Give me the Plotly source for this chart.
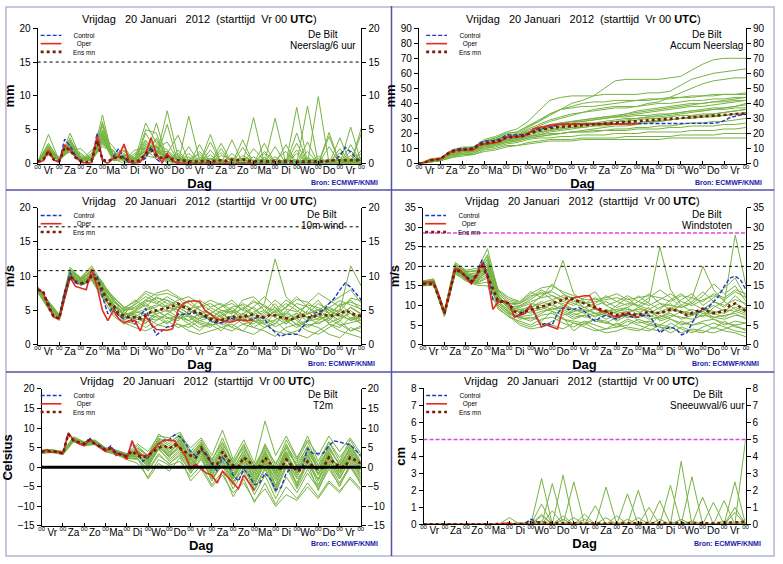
import plotly.graph_objects as go

W, H = 783, 564
FONT = "Liberation Sans, Arial, sans-serif"

DAY_LABELS = ["Vr", "Za", "Zo", "Ma", "Di", "Wo", "Do", "Vr", "Za", "Zo", "Ma", "Di", "Wo", "Do", "Vr"]
HOURS_6 = list(range(0, 361, 6))
HOURS_12 = list(range(0, 361, 12))
OPER_HOURS = list(range(0, 241, 6))
LEGEND_NAMES = ["Control", "Oper", "Ens mn"]

# ---------------- Neerslag / 6 uur (mm) ----------------
PRECIP_CONTROL = [0.2,0.4,1.9,0.5,0.3,3.6,2.6,1.2,0.3,0.0, 0.1,4.5,0.5,0.0,1.0,2.2,0.8,0.1,0.0,0.3,
                  0.8,2.5,0.7,0.0,1.4,0.3,0.0,0.0,0.1,0.0, 0.0,0.0,0.1,0.0,0.0,0.0,0.1,0.0,0.0,0.0,
                  0.0,0.0,0.0,0.0,0.0,0.0,0.1,0.0,0.0,0.0, 0.0,0.0,0.1,0.2,0.3,0.5,1.2,2.4,1.7,0.8, 0.3]
PRECIP_OPER = [0.2,0.4,2.0,0.5,0.2,2.7,2.0,1.0,0.2,0.0, 0.1,4.0,0.5,0.0,0.8,1.0,2.9,0.2,0.0,0.2,
               1.5,3.8,1.4,0.2,1.5,0.4,0.1,0.0,0.0,0.0, 0.0,0.0,0.0,0.0,0.0,0.0,0.0,0.0,0.0,0.0, 0.0]
PRECIP_MEAN = [0.3,0.5,1.8,0.6,0.4,2.4,2.0,0.9,0.4,0.2, 0.4,3.4,0.6,0.3,0.8,1.0,0.8,0.4,0.3,0.5,
               1.5,2.0,1.2,0.8,1.0,0.6,0.5,0.4,0.4,0.3, 0.3,0.4,0.3,0.4,0.5,0.4,0.6,0.5,0.6,0.4,
               0.3,0.4,0.3,0.3,0.4,0.3,0.4,0.3,0.3,0.3, 0.3,0.3,0.3,0.4,0.4,0.5,0.5,0.4,0.5,0.5, 0.5]
PRECIP_MEMBERS = [
    [0.3,2.0,0.5,2.6,0.6,0.4,3.8,0.8,1.0,0.3,1.6,2.0,1.0,0.6,0.0,0.3,0.0,0.5,0.0,0.2,0.0,0.0,0.4,0.0,0.0,0.3,0.0,0.0,0.2,0.0,0.3],
    [0.2,4.3,0.4,4.5,0.8,0.3,7.2,0.5,2.5,0.2,0.8,6.0,0.5,1.5,0.0,0.0,2.0,0.0,0.0,0.0,0.5,0.0,0.0,2.8,0.0,0.5,0.0,0.0,0.0,0.2,0.0],
    [0.4,1.5,0.8,2.0,2.2,0.6,2.5,1.8,0.4,1.2,3.5,1.0,7.8,1.0,0.0,0.0,3.2,0.0,0.0,0.0,0.0,1.5,0.0,0.0,0.0,8.5,0.0,0.0,0.5,0.0,1.0],
    [0.3,2.5,0.3,3.0,0.5,1.5,5.5,0.6,1.2,0.0,5.0,4.5,0.4,0.0,7.0,0.5,0.0,0.0,1.5,0.0,6.8,0.0,0.0,0.0,4.5,0.0,9.9,0.0,0.0,0.5,0.0],
    [0.2,1.8,1.0,1.7,0.3,0.5,4.2,2.5,0.5,2.0,2.2,0.6,1.5,4.2,0.3,0.0,0.0,3.0,0.0,0.0,0.0,0.0,6.7,0.0,0.0,0.0,0.0,4.0,0.0,5.4,0.0],
    [0.3,3.0,0.5,2.2,1.0,0.4,6.2,0.8,0.0,0.5,6.0,3.0,2.0,0.5,0.0,1.8,0.0,0.0,0.0,3.5,0.0,0.0,0.0,0.0,0.0,0.0,0.0,0.0,3.8,0.0,5.3],
    [0.4,1.2,0.6,3.8,0.4,2.0,3.0,1.2,2.0,0.0,1.0,2.5,0.0,0.0,0.0,0.0,0.0,0.0,3.5,0.0,0.0,0.0,0.0,0.0,2.0,0.0,0.0,4.6,0.0,0.0,2.0],
    [0.2,2.2,0.3,2.8,1.5,0.3,3.5,0.4,0.6,0.8,1.2,0.8,5.8,0.0,0.0,0.0,0.0,2.2,0.0,0.0,0.0,3.0,0.0,0.0,0.0,0.0,0.0,0.0,0.0,2.8,0.0],
    [0.3,1.6,0.4,2.4,0.6,0.6,2.8,2.0,0.2,0.0,4.5,1.8,0.0,2.0,0.0,0.0,0.0,0.0,0.0,0.0,0.0,0.0,0.0,0.0,8.3,0.0,0.0,0.0,0.0,0.0,0.0],
    [0.3,2.8,0.7,1.9,0.3,0.8,4.8,0.6,1.5,0.3,3.0,1.2,0.8,0.0,2.5,0.0,0.0,0.0,0.0,0.0,0.0,0.0,2.5,0.0,0.0,0.0,0.0,0.0,0.0,0.0,4.5],
    [0.2,1.4,0.5,3.2,0.9,0.3,3.2,1.0,0.8,0.6,2.0,2.8,0.4,0.0,0.0,1.0,0.0,0.0,0.0,0.0,0.0,0.0,0.0,0.0,0.0,3.2,0.0,0.0,0.0,0.0,0.0],
    [0.3,2.4,0.4,2.0,0.5,1.0,5.0,1.5,0.3,0.2,1.5,3.5,0.6,0.0,0.0,0.0,4.3,0.0,0.0,0.0,0.0,0.0,0.0,0.0,0.0,0.0,0.0,0.0,2.2,0.0,0.0],
    [0.3,1.9,0.6,2.7,0.7,0.5,4.0,1.0,0.7,0.4,2.5,1.5,1.2,0.8,0.5,0.2,0.8,0.3,0.0,1.2,0.3,0.0,0.5,1.8,0.0,0.4,0.0,0.6,0.0,0.8,0.2],
    [0.2,2.1,0.4,3.5,1.2,0.7,5.8,0.9,1.8,0.6,1.8,2.2,3.2,0.4,1.0,0.0,0.0,1.2,0.6,0.0,2.2,0.5,0.0,0.0,1.5,0.0,0.7,0.0,1.6,0.0,0.5],
    [0.4,1.7,0.5,2.3,0.4,0.9,3.6,1.4,0.5,1.5,2.8,2.4,0.3,1.2,0.0,2.8,0.0,0.0,0.9,0.0,0.0,1.8,0.3,0.0,0.0,0.9,0.0,2.5,0.0,0.3,1.5],
    [0.3,2.6,0.5,2.9,0.8,0.6,4.4,1.1,0.9,0.2,1.4,3.8,0.9,0.2,1.5,0.0,1.3,0.0,0.0,2.4,0.0,0.0,1.0,0.0,3.0,0.0,0.0,0.4,0.0,1.2,0.0],
    [0.2,1.8,0.4,2.1,0.6,0.4,3.3,0.7,1.3,0.5,2.6,1.7,1.8,0.3,0.6,1.4,0.0,0.6,0.0,0.0,1.0,0.0,0.0,0.6,0.0,1.8,0.0,0.0,0.9,0.0,0.7],
    [0.3,2.3,0.6,3.3,0.5,1.2,4.6,0.5,0.8,0.9,3.3,2.0,0.6,0.9,0.3,0.0,0.5,1.6,0.3,0.6,0.0,0.9,0.0,0.3,0.6,0.0,1.1,0.0,0.0,1.9,0.4],
    [0.3,1.5,0.4,2.5,0.9,0.6,3.9,1.3,0.4,0.7,1.9,2.6,1.1,0.5,0.2,0.7,0.3,0.0,0.4,0.8,0.5,0.3,0.6,0.2,0.4,0.5,0.3,0.6,0.4,0.3,0.5],
    [0.2,2.0,0.5,2.8,0.7,0.5,4.1,0.9,1.1,0.4,2.2,1.9,0.9,0.6,0.4,0.5,0.6,0.4,0.2,0.5,0.4,0.6,0.3,0.5,0.2,0.7,0.4,0.3,0.6,0.4,0.6],
]
PRECIP_LINES = [15]

# ---------------- Accum Neerslag (mm) ----------------
ACCUM_CONTROL = [0,0.5,2,2.5,3,6.5,8.5,9.8,10,10, 10.2,13.5,15,15,15.5,16.5,19,19,19,19.2,
                 20,22,23.5,23.5,24.5,25.5,26,26.2,26.3,26.4, 26.5,26.5,26.5,26.5,26.5,26.5,26.5,26.5,26.5,26.5,
                 26.5,26.5,26.5,26.5,26.5,26.5,26.5,26.5,26.5,26.5, 26.5,26.5,26.5,26.6,26.8,27.2,28.5,30.5,31.5,32.3, 32.8]
ACCUM_OPER = [0,0.5,2.5,3,3.2,6,8,9,9.2,9.2, 9.3,12.5,13,13,13.8,14.8,17.5,17.7,17.7,17.9,
              19.5,23,24.2,24.4,25.5,26,26.2,26.2,26.2,26.2, 26.2,26.2,26.2,26.2,26.2,26.3,26.3,26.3,26.3,26.3, 26.3]
ACCUM_MEAN = [0,0.5,2.2,2.6,3,6,7.8,8.8,9.2,9.4, 9.8,12.5,13.5,13.8,14.5,15.5,17.2,17.5,17.8,18.3,
              19.5,21,22,22.8,23.5,24,24.4,24.7,25,25.2, 25.4,25.6,25.8,26.1,26.4,26.7,27,27.3,27.6,27.9,
              28.1,28.4,28.7,29,29.2,29.5,29.8,30,30.3,30.6, 30.9,31.1,31.4,31.6,31.9,32.1,32.4,32.6,32.9,33.1, 33.4]
ACCUM_MEMBERS = [
    [0,2,3,8,10,11,15,17,20,21,25,28,32,36,40,42,45,50,55,56,56,56,56,57,58,62,66,69,70,70,70],
    [0,2,4,9,11,11,16,18,21,23,28,35,42,44,45,45,45,46,46,46,46,47,47,48,52,56,58,60,61,62,63],
    [0,2,3,7,9,10,13,15,18,19,22,25,28,30,32,34,36,37,38,38,38,40,41,44,47,50,53,55,56,57,57],
    [0,3,4,8,10,11,14,16,19,20,24,28,33,36,37,38,38,39,40,41,42,42,43,43,44,44,45,45,46,46,47],
    [0,2,3,6,8,9,12,14,16,17,20,22,24,26,28,29,30,31,32,33,34,35,36,37,38,39,40,41,42,43,44],
    [0,2,3,7,9,9,13,15,17,18,21,22,24,25,26,27,27,28,29,30,30,31,31,32,33,34,35,36,37,38,40],
    [0,2,3,6,8,8,11,13,15,16,18,19,21,22,23,24,25,25,26,26,27,28,28,29,30,30,31,31,32,33,34],
    [0,1,2,5,7,7,10,12,14,15,17,18,19,20,21,21,22,22,23,23,24,24,25,25,26,27,27,28,28,29,30],
    [0,2,3,6,8,9,12,13,15,16,18,19,20,20,21,21,21,22,22,22,23,23,23,24,24,25,25,25,26,26,27],
    [0,1,2,5,6,7,10,11,13,14,16,17,17,18,18,19,19,19,20,20,20,21,21,21,21,22,22,22,23,23,24],
    [0,1,2,4,6,6,9,10,12,12,14,15,16,16,16,17,17,17,17,18,18,18,18,18,19,19,19,19,20,20,20],
    [0,1,2,4,5,6,8,9,11,12,13,14,15,15,15,16,16,16,16,16,16,16,16,17,17,17,17,17,17,17,17],
    [0,2,4,8,10,11,15,17,20,21,25,29,33,36,38,40,41,41,42,42,42,43,43,44,44,45,45,46,46,46,46],
    [0,2,3,7,9,10,14,16,18,19,23,26,29,31,33,34,35,36,37,37,38,39,40,40,41,42,42,43,43,44,44],
    [0,2,3,7,9,10,13,15,17,18,21,24,26,27,28,29,30,31,31,32,33,34,35,36,37,38,38,39,40,41,42],
    [0,2,3,6,8,9,12,14,16,17,20,23,25,27,28,28,29,30,31,31,32,32,33,33,34,35,36,37,37,38,39],
    [0,2,3,7,9,10,13,15,17,18,20,22,23,24,25,26,26,27,28,29,30,31,32,33,34,35,35,36,36,37,37],
    [0,1,3,6,8,8,12,14,16,17,19,21,22,23,24,25,26,27,28,28,29,30,30,31,32,32,33,33,34,35,36],
    [0,2,3,6,8,9,12,13,15,16,18,20,22,23,24,24,25,26,26,27,27,28,29,29,30,31,31,32,32,33,33],
    [0,2,3,7,9,10,14,16,18,19,21,23,25,26,27,28,29,30,31,33,35,36,37,38,39,40,40,41,41,42,42],
    [0,2,3,6,7,8,11,12,14,15,17,18,19,20,21,22,23,24,25,25,26,27,28,29,30,31,32,33,34,35,36],
]
ACCUM_LINES = []

# ---------------- 10m wind (m/s) ----------------
WIND_CONTROL = [8.0,7.8,6.0,4.0,4.0,7.5,10.5,9.0,8.8,9.0, 10.5,10.0,7.0,4.5,5.5,4.2,3.8,4.0,3.0,4.2,
                5.3,3.0,1.4,2.0,2.6,2.7,4.5,4.4,4.5,4.6, 4.7,4.0,3.5,3.2,3.2,3.5,3.8,3.6,3.5,3.6,
                3.8,4.0,3.8,2.5,1.8,1.2,1.5,1.5,1.5,2.5, 3.5,4.5,4.8,5.0,6.0,6.8,8.0,9.0,8.4,7.5, 6.5]
WIND_OPER = [8.0,7.6,5.5,4.0,3.8,7.0,9.8,8.5,8.2,8.0, 11.0,8.5,5.0,3.5,5.0,3.8,3.2,3.5,3.5,2.0,
             4.2,3.0,2.2,2.1,2.1,2.3,5.0,6.0,6.3,6.4, 6.3,5.0,4.5,3.8,3.5,3.3,3.3,3.6,3.6,3.5, 3.6]
WIND_MEAN = [8.0,7.8,5.5,4.0,3.8,7.5,10.0,9.2,9.0,9.0, 10.0,9.5,8.0,6.0,5.8,4.5,4.2,4.0,4.0,3.8,
             4.3,4.8,5.0,5.1,5.3,5.6,6.0,5.5,5.2,4.8, 4.6,4.3,3.8,3.5,3.6,3.9,4.1,4.0,4.0,4.3,
             4.4,4.1,4.0,4.3,4.3,4.0,3.8,3.7,4.0,4.3, 4.0,4.0,4.5,4.4,4.2,4.3,4.4,5.0,4.6,4.3, 4.2]
WIND_MEMBERS = [
    [8.2,6.0,4.0,10.5,9.5,10.5,8.5,6.5,5.0,5.5,6.5,7.5,8.0,7.0,6.0,5.0,4.5,5.5,6.5,5.0,4.5,6.0,12.5,7.0,5.5,4.5,6.0,5.0,4.0,5.5,4.5],
    [7.8,5.5,3.5,9.8,9.0,9.5,7.0,5.0,3.5,3.0,4.0,3.0,2.5,3.0,2.0,1.5,2.0,2.5,3.0,2.0,1.5,2.5,3.5,2.0,1.5,1.0,2.0,3.0,2.0,1.5,1.0],
    [8.0,5.8,3.8,10.2,8.8,10.0,8.0,5.5,4.5,6.0,7.5,6.5,5.5,6.5,7.0,6.0,5.0,4.0,3.5,4.5,5.5,4.0,3.0,4.5,6.0,5.5,4.0,3.5,5.0,11.5,8.5],
    [8.5,6.2,4.2,11.0,9.8,11.5,9.0,6.8,4.0,4.5,3.5,4.5,5.0,4.0,3.5,4.5,3.5,3.0,4.0,5.5,4.0,3.0,4.5,3.5,2.5,3.5,4.5,3.0,2.5,4.0,3.0],
    [7.6,5.2,3.6,9.5,9.2,9.8,7.5,4.5,3.2,2.5,2.0,2.8,3.5,2.5,3.0,2.0,3.5,2.5,2.0,3.0,2.5,2.0,1.2,2.5,3.0,2.0,1.5,2.5,3.5,2.0,2.5],
    [8.3,6.4,4.4,11.3,9.6,10.8,9.2,6.2,5.2,6.5,5.5,7.0,6.0,5.5,4.5,5.5,6.0,5.0,4.5,6.5,7.0,5.5,5.0,6.5,5.5,4.5,5.0,6.0,7.0,8.0,6.0],
    [7.9,5.7,3.9,10.0,9.0,10.2,7.8,5.8,4.8,4.0,5.0,5.5,6.5,5.0,4.0,3.0,2.5,4.0,5.0,3.5,3.0,4.5,6.0,4.0,3.0,5.0,6.5,4.5,3.5,5.0,3.5],
    [8.1,6.1,4.1,10.8,9.4,11.0,8.8,7.0,5.5,5.0,6.0,5.0,4.0,3.5,5.0,6.5,5.5,6.0,5.0,4.0,5.5,7.0,5.5,3.5,4.0,6.0,7.5,6.5,5.5,6.5,5.0],
    [7.7,5.4,3.7,9.9,8.6,9.4,6.8,4.2,3.0,3.5,2.5,3.5,4.5,5.5,4.5,3.5,4.0,3.5,2.5,2.0,3.5,3.0,2.0,1.5,2.0,3.0,2.5,1.5,1.0,2.5,1.8],
    [8.0,5.9,4.0,10.4,9.3,10.3,8.2,6.0,4.2,5.0,6.5,6.0,7.0,6.0,5.5,4.0,4.5,5.5,6.0,5.0,6.5,5.0,4.0,5.5,7.0,5.5,4.5,5.5,4.5,3.5,4.0],
    [8.4,6.3,4.3,10.9,9.7,11.2,8.6,5.2,3.8,4.8,4.5,4.0,3.0,4.5,3.5,2.5,3.0,4.5,3.5,4.0,2.5,3.5,5.0,3.0,4.5,4.0,3.0,4.0,6.0,4.5,3.0],
    [7.9,5.6,3.8,10.1,9.1,9.9,7.6,5.6,4.6,4.3,3.0,5.0,4.0,3.0,2.5,3.5,3.0,2.0,3.5,4.5,3.5,2.5,3.0,5.0,3.5,2.5,3.5,4.5,3.0,2.0,2.8],
    [8.0,5.8,3.9,10.3,9.2,10.1,8.1,5.9,4.4,4.6,5.2,5.8,5.5,5.0,4.2,3.8,4.6,3.6,4.2,3.4,4.8,5.6,4.2,4.6,3.8,4.4,5.2,3.8,4.6,5.4,4.4],
    [7.8,5.6,3.8,10.0,8.9,9.7,7.3,5.2,4.0,3.8,4.4,4.8,5.8,4.5,3.5,4.5,3.8,4.8,3.4,4.6,3.8,4.2,5.5,3.8,4.6,3.4,3.8,5.0,4.2,3.6,4.2],
    [8.2,6.0,4.1,10.6,9.5,10.6,8.4,6.4,4.9,5.3,6.2,6.8,6.5,5.8,5.0,4.2,5.4,4.6,5.5,5.8,4.4,5.0,6.5,5.2,4.8,5.8,5.4,4.6,5.8,6.2,5.6],
    [7.9,5.7,3.9,10.2,9.1,10.0,7.9,5.7,4.3,3.6,3.8,3.6,4.5,3.8,4.2,3.2,2.8,3.2,4.2,3.0,3.4,3.6,2.6,3.4,3.8,2.8,3.2,3.8,2.8,3.2,3.6],
    [8.1,6.1,4.0,10.7,9.4,10.7,8.7,6.6,5.1,5.8,7.0,6.2,4.8,5.5,6.5,5.2,3.8,5.0,4.8,6.0,5.2,4.0,4.8,6.0,5.0,3.8,4.4,5.4,6.4,5.8,5.2],
    [7.7,5.5,3.7,9.8,8.8,9.6,7.2,5.0,3.6,4.2,3.2,4.2,3.8,4.2,3.0,3.8,4.4,3.0,2.6,3.8,4.4,3.2,3.6,4.4,2.8,3.6,4.2,3.2,3.8,4.6,3.4],
    [8.3,6.2,4.2,10.9,9.6,10.9,8.9,6.9,5.4,6.2,7.8,7.2,7.5,6.8,5.2,5.6,6.5,5.8,4.6,5.2,6.2,5.8,4.6,5.4,6.6,6.2,5.0,5.2,4.8,6.8,6.4],
    [8.0,5.9,4.0,10.4,9.2,10.2,8.0,5.8,4.4,4.8,5.8,4.4,3.2,4.0,4.8,4.6,3.6,4.2,5.4,4.2,3.6,4.8,4.0,3.0,4.2,4.8,3.6,4.2,5.2,3.8,4.6],
]
WIND_LINES = [10.8, 13.9, 17.2]

# ---------------- Windstoten (m/s) ----------------
GUST_CONTROL = [15.5,15.8,15.8,12.0,8.0,14.0,19.5,18.5,17.5,16.0, 18.0,21.7,18.0,11.5,11.0,11.0,10.5,7.0,7.8,8.5,
                10.0,7.0,5.0,5.5,5.0,8.0,9.5,9.0,9.0,9.5, 8.5,7.0,6.0,7.0,7.5,7.0,6.5,7.5,7.5,7.0,
                7.0,7.5,7.5,5.5,3.0,4.0,4.5,4.0,2.5,3.0, 5.5,8.0,9.0,9.5,11.0,12.5,15.0,17.0,17.5,16.5, 14.0]
GUST_OPER = [16.0,16.0,16.0,12.5,8.0,13.5,19.5,19.0,17.0,15.5, 17.5,21.0,17.0,9.0,11.0,11.2,10.5,7.0,7.5,8.0,
             10.0,7.5,4.5,5.0,4.5,4.0,9.0,11.0,12.0,12.3, 12.5,12.5,9.5,8.5,8.5,7.5,7.0,7.5,8.0,7.5, 7.0]
GUST_MEAN = [15.5,15.5,15.5,12.0,8.0,13.5,19.3,18.5,17.5,16.0, 18.0,20.0,17.5,14.0,11.0,11.0,10.5,8.5,8.0,8.5,
             9.0,9.5,9.8,10.0,10.5,11.0,11.5,12.0,11.5,11.0, 10.5,10.0,9.5,9.0,8.5,8.0,7.5,7.8,8.0,7.8,
             7.5,8.0,8.5,8.2,8.0,8.5,9.0,8.7,8.3,7.5, 8.0,8.5,9.2,8.5,8.0,8.3,8.5,10.0,10.5,9.5, 8.5]
GUST_MEMBERS = [
    [15.5,16.0,8.0,19.5,18.0,17.0,22.0,12.0,9.0,8.5,10.0,12.5,14.0,21.5,13.0,11.0,9.0,8.0,10.0,12.0,9.5,11.0,25.0,14.0,10.0,12.0,20.0,14.0,11.0,28.0,15.0],
    [15.0,15.2,7.5,18.0,16.5,15.5,16.0,10.0,7.5,5.5,4.5,5.5,5.0,4.0,5.5,4.5,3.5,4.0,5.5,4.0,3.5,5.0,4.5,3.0,4.5,3.5,3.0,4.5,3.5,3.0,2.0],
    [16.0,16.5,8.5,20.5,18.5,19.0,24.5,13.5,11.0,10.5,12.0,14.0,12.5,11.0,10.0,12.0,13.5,10.0,8.5,9.5,11.0,13.0,10.5,9.0,11.5,13.0,10.0,12.0,14.5,17.0,12.0],
    [15.3,15.8,7.8,19.0,17.0,16.0,19.0,11.0,8.0,7.0,6.5,8.0,9.5,8.0,6.5,7.5,6.0,5.5,7.0,8.5,6.0,5.0,7.5,6.5,5.0,6.0,8.0,6.5,5.0,6.0,5.5],
    [16.3,16.8,8.8,21.0,19.0,19.5,21.5,14.0,12.0,11.0,13.5,12.0,15.5,13.0,11.5,9.5,10.5,12.5,11.0,10.0,12.5,10.5,9.0,11.5,13.0,10.5,12.5,15.5,13.0,15.0,11.0],
    [15.2,15.5,7.2,18.5,16.8,15.8,17.5,9.5,7.0,6.0,5.0,6.5,7.0,5.5,4.5,6.0,5.0,4.0,4.5,6.0,5.0,4.0,3.5,5.5,4.0,3.0,4.5,5.5,4.5,3.5,3.0],
    [15.8,16.2,8.2,20.0,18.2,17.5,20.0,12.5,9.5,9.0,8.0,9.5,11.0,10.5,9.0,8.0,9.5,7.5,6.5,8.0,9.5,8.5,7.0,8.5,10.0,8.5,7.0,9.5,11.0,9.0,8.0],
    [15.6,15.9,7.9,19.2,17.6,16.8,18.5,11.5,10.0,8.0,9.5,11.0,10.0,9.0,7.5,8.5,7.0,9.0,8.0,7.0,8.0,9.5,6.0,7.0,8.5,7.5,9.0,8.0,7.0,8.5,7.5],
    [15.4,15.6,7.6,18.8,17.3,16.3,19.5,10.5,8.5,6.5,7.0,6.0,8.5,6.5,5.5,5.0,6.5,6.0,4.5,5.0,6.5,5.5,4.5,4.0,6.0,5.0,5.5,4.0,6.0,4.5,4.0],
    [16.1,16.4,8.3,20.3,18.8,18.5,23.0,13.0,10.5,10.0,11.5,13.5,11.5,12.5,12.0,10.5,11.0,11.5,12.0,11.0,10.0,12.0,14.0,12.0,9.5,11.0,13.5,11.0,9.5,12.5,10.0],
    [15.7,16.1,8.1,19.7,17.8,17.2,20.5,12.2,9.8,9.5,10.5,10.0,9.0,10.0,8.5,9.0,8.0,8.5,9.0,9.5,7.5,8.0,9.5,10.5,8.0,7.5,8.5,10.0,8.5,10.5,9.0],
    [15.1,15.3,7.3,18.3,16.2,15.2,15.0,9.0,7.2,5.0,4.0,4.5,6.0,7.0,3.5,5.5,4.0,3.0,3.5,4.5,4.0,3.5,5.0,4.5,3.0,4.0,3.5,3.0,4.0,5.0,3.5],
    [15.6,16.0,8.0,19.5,17.7,17.0,20.0,12.0,9.5,9.0,9.5,10.5,11.5,10.0,9.0,8.5,9.0,8.5,8.0,8.5,9.0,8.5,8.0,9.0,8.5,8.0,9.0,8.5,8.0,9.5,8.5],
    [15.4,15.7,7.7,19.0,17.2,16.5,19.0,11.0,8.8,7.5,8.5,9.0,10.5,8.5,7.0,7.5,8.0,6.5,7.5,7.0,7.0,7.5,6.5,7.5,7.0,6.5,7.5,7.0,6.5,7.5,7.0],
    [15.9,16.3,8.3,20.2,18.4,18.0,21.0,13.0,10.5,10.5,12.5,13.0,13.5,12.0,11.0,10.5,12.0,10.0,11.0,12.5,11.0,10.0,11.5,13.0,11.0,10.0,11.5,12.5,11.5,13.5,12.0],
    [15.2,15.4,7.4,18.6,16.6,15.7,17.0,10.0,7.8,6.8,6.0,7.5,8.0,6.5,6.0,5.5,6.5,5.5,5.0,6.5,5.5,6.0,5.0,6.5,5.5,5.0,6.0,6.5,5.5,5.0,5.5],
    [15.7,16.1,8.1,19.8,18.0,17.6,20.5,12.5,9.7,9.8,11.0,12.0,12.5,11.5,10.5,9.5,10.0,11.0,9.5,10.5,10.0,9.0,10.5,10.0,9.5,10.5,9.0,11.0,10.0,11.5,10.5],
    [15.3,15.6,7.6,18.9,17.0,16.2,18.0,10.5,8.2,7.2,7.5,8.5,9.0,9.5,8.0,7.0,7.5,8.0,6.0,7.5,8.0,6.5,7.0,8.0,6.5,7.5,8.5,7.0,7.5,8.0,6.5],
    [16.0,16.6,8.6,20.6,18.7,18.8,22.5,13.8,11.5,10.8,13.0,14.5,15.0,13.5,12.5,11.5,11.5,12.0,13.0,11.5,12.0,12.5,12.0,11.0,12.5,12.0,11.0,13.0,12.0,14.0,13.0],
    [15.5,15.9,7.9,19.3,17.5,16.9,19.5,11.8,9.2,8.5,9.0,9.5,8.5,7.5,8.5,9.5,8.0,7.5,8.5,9.0,8.5,7.0,8.5,9.5,8.0,9.0,8.0,8.0,9.0,8.5,9.5],
]
GUST_LINES = [20, 25]
GUST_WARN = [28.5]

# ---------------- T2m (Celsius) ----------------
T2M_CONTROL = [4.0,4.3,3.7,4.0,3.3,8.5,7.0,6.2,5.8,7.5, 6.0,5.5,4.3,5.5,3.6,3.5,2.6,6.3,3.8,1.5,
               2.5,4.5,6.0,7.0,7.0,8.3,7.8,6.2,4.0,2.8, 4.5,3.2,0.8,-1.0,2.5,1.0,-2.0,-3.5,-0.5,-2.0,
               -4.5,-4.0,-1.5,-3.0,-5.8,-5.2,-1.5,0.0,-0.5,0.0, 4.8,3.5,3.5,3.6,5.5,6.7,6.5,6.0,5.8,4.5, 3.0]
T2M_OPER = [4.0,4.5,3.8,4.0,3.5,8.8,7.0,6.0,5.5,7.0, 6.0,5.0,4.0,5.0,3.0,3.5,2.0,6.8,3.5,3.0,
            3.0,4.5,6.0,6.8,7.0,6.7,5.0,3.0,-0.3,0.8, -0.5,-1.5,-2.0,-4.0,-1.0,-2.5,-3.8,-5.5,-2.0,-4.0, -6.0]
T2M_MEAN = [4.0,4.2,4.0,4.0,3.5,8.5,6.8,6.3,6.0,7.0, 6.0,5.3,4.5,4.8,3.6,3.2,2.8,4.2,3.0,2.5,
            3.0,4.0,5.0,5.5,4.8,5.8,4.8,4.0,3.0,2.5, 5.0,3.0,1.0,0.8,4.0,2.0,0.5,0.2,2.5,1.5,
            0.0,0.2,2.5,1.0,-0.3,-0.3,2.0,0.5,-1.0,-0.5, 1.5,0.2,-0.5,0.0,2.5,1.0,0.3,0.0,2.5,1.8, 1.0]
T2M_MEMBERS = [
    [4.0,4.2,3.8,7.0,6.0,6.5,4.5,4.0,3.0,5.5,3.0,8.5,6.5,8.0,5.0,7.5,3.0,9.5,2.0,7.0,1.0,11.8,3.0,8.0,2.5,7.0,3.0,8.0,4.0,7.5,3.5],
    [3.5,3.8,3.2,6.5,5.5,5.8,4.0,3.2,2.0,1.0,-2.5,2.0,0.5,1.5,-2.5,0.5,-4.5,-1.0,-7.5,-3.0,-9.0,-4.0,-9.5,-5.0,-8.0,-4.0,-7.5,-3.5,-6.0,-3.0,-6.0],
    [4.2,4.4,3.9,7.5,6.3,6.8,4.8,4.2,3.3,4.0,2.0,6.0,5.0,7.0,2.0,6.0,0.0,4.5,-2.0,3.0,-3.0,2.5,-3.5,3.5,-1.5,4.5,-1.0,5.0,0.5,4.5,0.0],
    [3.8,4.0,3.5,7.2,6.1,6.2,4.3,3.6,2.5,3.0,0.5,4.5,2.0,4.5,0.0,3.5,-2.0,2.0,-4.0,1.0,-5.5,0.0,-6.0,1.0,-4.0,2.0,-4.5,1.5,-3.0,2.0,-2.5],
    [4.4,4.5,4.0,7.8,6.5,7.0,5.0,4.4,3.5,6.0,4.0,8.0,7.5,9.0,4.0,7.0,2.0,6.5,0.5,5.5,-1.0,6.0,0.5,7.0,2.0,8.0,1.5,6.5,2.5,6.0,1.5],
    [3.6,3.9,3.4,6.8,5.8,6.0,4.2,3.5,2.3,2.0,-1.0,3.0,1.0,3.0,-1.5,2.0,-3.0,0.5,-5.5,-1.0,-7.0,-2.0,-8.0,-2.5,-6.5,-1.5,-5.5,-0.5,-4.5,0.0,-4.0],
    [4.1,4.3,3.7,7.4,6.2,6.6,4.6,3.9,2.8,4.5,1.5,7.0,4.0,6.0,1.5,5.0,-1.0,3.5,-3.0,2.0,-1.5,4.0,-2.0,5.0,0.0,3.0,-2.0,3.5,-1.0,5.5,1.0],
    [3.9,4.1,3.6,7.1,5.9,6.4,4.4,3.7,2.6,3.5,1.0,5.0,3.0,5.5,0.5,4.0,-0.5,1.5,-3.5,-0.5,-4.5,1.5,-5.0,2.0,-3.0,0.5,-3.0,2.5,-2.0,3.0,-1.5],
    [4.3,4.4,4.0,7.6,6.4,6.9,4.9,4.3,3.4,5.0,3.0,7.5,6.0,8.5,3.0,6.5,1.0,5.5,-0.5,4.5,-2.0,3.5,-1.0,4.0,1.0,5.0,0.5,6.5,1.5,7.0,2.5],
    [3.7,3.9,3.3,6.9,5.7,5.9,4.1,3.4,2.2,2.5,-3.0,1.0,-1.0,2.5,-3.5,-0.5,-5.0,-2.0,-6.5,-4.0,-8.5,-5.5,-10.0,-7.0,-8.5,-5.0,-8.0,-4.0,-6.5,-2.5,-5.5],
    [4.0,4.2,3.8,7.3,6.0,6.5,4.5,3.8,2.9,4.0,2.5,6.5,4.5,7.5,2.5,6.0,1.5,7.5,1.0,6.0,0.0,5.5,-0.5,6.0,0.0,5.5,-0.5,4.0,-1.0,4.0,-0.5],
    [3.8,4.1,3.5,7.0,5.8,6.3,4.3,3.6,2.7,3.8,0.0,5.5,2.5,6.0,-1.0,4.5,-2.5,3.0,-2.5,2.5,-4.0,2.0,-4.5,3.0,-5.0,1.0,-6.0,0.5,-5.0,1.0,-4.5],
    [4.0,4.2,3.7,7.2,6.1,6.4,4.5,3.8,2.8,3.8,1.5,6.0,3.5,6.5,1.0,5.0,-0.5,4.0,-1.0,3.5,-2.0,3.0,-2.5,4.0,-1.5,3.5,-2.0,4.0,-1.0,3.5,-1.0],
    [3.9,4.1,3.6,7.0,6.0,6.3,4.4,3.7,2.7,3.2,0.8,5.2,2.8,5.0,0.0,4.0,-1.5,2.5,-2.5,2.5,-3.5,1.5,-3.0,2.0,-2.5,2.5,-3.5,2.0,-3.0,2.5,-2.0],
    [4.1,4.3,3.8,7.4,6.2,6.6,4.6,4.0,3.0,4.2,2.2,6.8,4.8,7.0,2.2,5.5,0.5,5.0,0.0,4.0,-0.5,4.5,-1.5,5.0,0.5,4.0,-0.5,5.5,0.5,5.0,1.0],
    [3.8,4.0,3.5,6.9,5.9,6.2,4.3,3.6,2.6,2.8,0.0,4.8,1.5,4.0,-0.5,3.0,-3.0,1.5,-3.0,1.5,-4.5,1.0,-5.5,0.5,-4.5,1.5,-3.0,3.0,-2.5,1.5,-3.0],
    [4.2,4.3,3.9,7.5,6.3,6.7,4.7,4.1,3.1,4.8,2.8,7.2,5.5,7.8,3.5,6.0,2.0,6.0,1.5,5.0,0.5,5.0,1.0,5.5,1.5,6.5,0.5,4.5,1.0,6.0,0.5],
    [3.9,4.1,3.6,7.1,6.0,6.3,4.4,3.7,2.7,3.4,1.2,5.5,3.2,5.5,0.8,4.5,-1.0,3.0,-1.5,2.0,-2.5,2.0,-1.5,3.0,-2.0,3.0,-1.5,2.5,-1.5,3.5,-0.5],
    [4.0,4.2,3.8,7.2,6.1,6.5,4.5,3.9,2.9,4.1,1.8,6.2,3.8,6.8,1.8,5.2,0.0,4.5,-0.5,3.0,-1.0,3.5,-1.0,3.5,-1.0,4.5,-0.5,3.0,0.0,4.5,0.5],
    [3.7,3.9,3.4,6.8,5.8,6.0,4.2,3.5,2.4,2.2,-0.5,3.5,0.8,3.5,-1.5,2.5,-3.5,1.0,-4.5,0.0,-6.0,-0.5,-6.5,0.0,-5.5,-0.5,-5.0,1.0,-4.0,0.5,-3.5],
]
T2M_ZERO = [0]

# ---------------- Sneeuwval / 6 uur (cm) ----------------
SNOW_CONTROL = [0,0,0,0,0,0,0,0,0,0, 0,0,0,0,0,0,0,0,0,0.1, 0.3,0.2,0,0,0,0,0,0,0,0,
                0,0,0,0,0,0,0,0,0,0, 0,0,0,0,0,0,0,0,0,0, 0,0,0,0,0,0,0,0,0,0, 0]
SNOW_OPER = [0,0,0,0,0,0,0,0,0,0, 0,0,0,0,0,0.05,0.1,0,0,0, 0,0,0,0,0,0,0,0,0,0, 0,0,0,0,0,0,0,0,0,0, 0]
SNOW_MEAN = [0,0,0,0,0,0,0,0,0,0, 0,0,0,0,0,0,0,0,0.02,0.05, 0.1,0.12,0.1,0.08,0.1,0.08,0.07,0.06,0.05,0.06,
             0.05,0.05,0.06,0.05,0.05,0.06,0.05,0.07,0.06,0.05, 0.06,0.08,0.07,0.06,0.07,0.06,0.08,0.07,0.08,0.06,
             0.07,0.08,0.06,0.07,0.06,0.08,0.09,0.1,0.12,0.12, 0.15]
SNOW_MEMBERS = [
    [0,0,0,0,0,0,0,0,0.4,0,0,2.7,0,0,0,0,0,0,0,0,0,0,0,0,3.7,0,0,0,0,0,0.1],
    [0,0,0,0,0,0,0,0,0,0,0.2,0,2.4,0,0,0,0,0,0,0,0,1.0,0,0,0,0,0,0,0,2.5,0],
    [0,0,0,0,0,0,0,0,0,0,0,0,0,2.9,0,0,0,2.2,0,0,0,0,0,0,0,0,0,0,0,0,5.0],
    [0,0,0,0,0,0,0,0,0,0,0,0,0,0,2.5,0,0,0,0,0,0,0,0,0,0,2.8,0,0,0,0,0],
    [0,0,0,0,0,0,0,0,0,0,0,0.5,0,0,0,0,1.1,0,0,1.8,0,0,0,0,0,0,1.6,0,0,0,0],
    [0,0,0,0,0,0,0,0,0,0,0,0,0,0,0,0,0,0,0,0,2.0,0,0,2.3,0,0,0,1.3,0,0,0],
    [0,0,0,0,0,0,0,0,0,0,0,1.2,0,0,0,0.6,0,0,0,0,0,0,0,0,0,0,0,0,1.4,0,0],
    [0,0,0,0,0,0,0,0,0,0,0,0,0.8,0,0,0,0,0,0,0,0,0,1.4,0,0,0,0,0,0,0.7,0],
    [0,0,0,0,0,0,0,0,0,0,0,0,0,0.5,0,0,0,0,0,0.3,0,0,0,0,0,0,0,0,0,0,0],
    [0,0,0,0,0,0,0,0,0,0,0,0.2,0,0,0.4,0,0,0,0,0,0,0,0,0,0,0,0,0,0,0,0.3],
    [0,0,0,0,0,0,0,0,0,0,0,0,0,0,0,0,0,0.4,0,0,0,0,0,0,0.3,0,0,0,0,0,0],
    [0,0,0,0,0,0,0,0,0,0,0,0,0,0,0,0,0,0,0,0,0,0,0.3,0,0,0,0,0,0,1.0,0],
    [0,0,0,0,0,0,0,0,0,0.1,0,0.6,0,0.3,0,0,0,0,0.5,0,0,0,0,0,0,0.2,0,0,0,0,0],
    [0,0,0,0,0,0,0,0,0,0,0,0,0,0,0,0.3,0,0,0,0,0.4,0,0,0,0,0,0,0,0.2,0,0],
]
SNOW_WARN = [5]

TITLE = "Vrijdag\u00a0\u00a0 20\u00a0Januari\u00a0\u00a0 2012\u00a0 (starttijd\u00a0 Vr\u00a000\u00a0<b>UTC</b>)"
STATION = "De Bilt"
SOURCE = "Bron: ECMWF/KNMI"

# ---------------- layout config (pixels) ----------------
PANELS = [
    dict(control=PRECIP_CONTROL, oper=PRECIP_OPER, mean=PRECIP_MEAN, members=PRECIP_MEMBERS,
         dotted=PRECIP_LINES, warn=[], zero=[], yrange=[0, 20], dtick=5, ytitle="mm", var="Neerslag/6 uur",
         box=(35, 22.7, 361.7, 161), title_xy=(198, 13), label_x=323, label_y=29, bron=(380, 180),
         leg=(38, 30)),
    dict(control=ACCUM_CONTROL, oper=ACCUM_OPER, mean=ACCUM_MEAN, members=ACCUM_MEMBERS,
         dotted=ACCUM_LINES, warn=[], zero=[], yrange=[0, 90], dtick=10, ytitle="mm", var="Accum Neerslag",
         box=(419.7, 22.7, 749.7, 161), title_xy=(586, 13), label_x=710, label_y=29, bron=(768, 180),
         leg=(427, 30)),
    dict(control=WIND_CONTROL, oper=WIND_OPER, mean=WIND_MEAN, members=WIND_MEMBERS,
         dotted=WIND_LINES, warn=[], zero=[], yrange=[0, 20], dtick=5, ytitle="m/s", var="10m wind",
         box=(35, 206, 361.7, 346), title_xy=(198, 199), label_x=322, label_y=213, bron=(377, 365),
         leg=(38, 214)),
    dict(control=GUST_CONTROL, oper=GUST_OPER, mean=GUST_MEAN, members=GUST_MEMBERS,
         dotted=GUST_LINES, warn=GUST_WARN, zero=[], yrange=[0, 35], dtick=5, ytitle="m/s", var="Windstoten",
         box=(423.7, 206, 749.7, 346), title_xy=(585, 199), label_x=710, label_y=213, bron=(765, 365),
         leg=(426, 214)),
    dict(control=T2M_CONTROL, oper=T2M_OPER, mean=T2M_MEAN, members=T2M_MEMBERS,
         dotted=[], warn=[], zero=T2M_ZERO, yrange=[-15, 20], dtick=5, ytitle="Celsius", var="T2m",
         box=(39, 391.3, 361, 531.3), title_xy=(196, 383), label_x=323, label_y=397, bron=(380, 549),
         leg=(38, 398)),
    dict(control=SNOW_CONTROL, oper=SNOW_OPER, mean=SNOW_MEAN, members=SNOW_MEMBERS,
         dotted=[], warn=SNOW_WARN, zero=[], yrange=[0, 8], dtick=1, ytitle="cm", var="Sneeuwval/6 uur",
         box=(424.3, 390.7, 749.3, 529.7), title_xy=(584, 383), label_x=711, label_y=397, bron=(767, 549),
         leg=(427, 398)),
]

GREEN = "#77b342"
C_CONTROL = "#2434c4"
C_OPER = "#e52a1f"
C_MEAN = "#7a1c06"
MAGENTA = "#e040e0"
FRAME = "#5552a6"
OUTER = "#b4b4d4"
STYLE_CONTROL = dict(color=C_CONTROL, width=1.4, dash="4px,2px")
STYLE_OPER = dict(color=C_OPER, width=1.6)
STYLE_MEAN = dict(color=C_MEAN, width=2.6, dash="dot")
LEG_FONT = 6.5


def fx(p):
    return p / W


def fy(p):
    return 1 - p / H


def nm(prefix, n):
    return prefix + ("" if n == 1 else str(n))


fig = go.Figure()
layout = dict(width=W, height=H, autosize=False, margin=dict(l=0, r=0, t=0, b=0),
              paper_bgcolor="white", plot_bgcolor="white", font=dict(family=FONT, color="black"),
              showlegend=False, hovermode=False)
shapes = []
annotations = []

x6 = [h / 24 for h in HOURS_6]
x12 = [h / 24 for h in HOURS_12]
xop = [h / 24 for h in OPER_HOURS]

for k, p in enumerate(PANELS, start=1):
    xa, ya = nm("x", k), nm("y", k)
    xo, yo = nm("x", k + 6), nm("y", k + 6)
    for m in p["members"]:
        fig.add_trace(go.Scatter(x=x12, y=m, mode="lines", xaxis=xa, yaxis=ya,
                                 line=dict(color=GREEN, width=1.0), hoverinfo="skip"))
    fig.add_trace(go.Scatter(x=x6, y=p["control"], mode="lines", name=LEGEND_NAMES[0], xaxis=xa, yaxis=ya,
                             line=STYLE_CONTROL))
    fig.add_trace(go.Scatter(x=xop, y=p["oper"], mode="lines", name=LEGEND_NAMES[1], xaxis=xa, yaxis=ya,
                             line=STYLE_OPER))
    fig.add_trace(go.Scatter(x=x6, y=p["mean"], mode="lines", name=LEGEND_NAMES[2], xaxis=xa, yaxis=ya,
                             line=STYLE_MEAN))
    # empty helpers so the overlay axes get their subplots
    fig.add_trace(go.Scatter(x=[], y=[], xaxis=xo, yaxis=ya, hoverinfo="skip"))
    fig.add_trace(go.Scatter(x=[], y=[], xaxis=xa, yaxis=yo, hoverinfo="skip"))

    x0, y0, x1, y1 = p["box"]
    layout[nm("xaxis", k)] = dict(
        domain=[fx(x0), fx(x1)], range=[0, 15], anchor=ya, tickmode="array",
        tickvals=[d + 0.5 for d in range(15)], ticktext=DAY_LABELS, ticks="", ticklabelstandoff=-3,
        ticklabeloverflow="allow",
        showline=True, linecolor="black", linewidth=1, showgrid=False, zeroline=False,
        tickfont=dict(size=10), fixedrange=True,
        title=dict(text="<b>Dag</b>", font=dict(size=13), standoff=0))
    layout[nm("xaxis", k + 6)] = dict(
        overlaying=xa, anchor=ya, range=[0, 15], tickmode="array", tickvals=list(range(16)),
        ticktext=["00"] * 16, ticks="inside", ticklen=3, tickcolor="black", tickfont=dict(size=6),
        ticklabelstandoff=-2, ticklabeloverflow="allow", showline=False, showgrid=False, zeroline=False,
        fixedrange=True)
    ytick = dict(range=p["yrange"], tick0=p["yrange"][0], dtick=p["dtick"], ticks="outside", ticklen=4,
                 tickcolor="black", showline=True, linecolor="black", linewidth=1, showgrid=False,
                 zeroline=False, tickfont=dict(size=10), fixedrange=True)
    layout[nm("yaxis", k)] = dict(domain=[fy(y1), fy(y0)], anchor=xa,
                                  title=dict(text="<b>%s</b>" % p["ytitle"], font=dict(size=13), standoff=2),
                                  **ytick)
    layout[nm("yaxis", k + 6)] = dict(overlaying=ya, side="right", anchor=xa, **ytick)

    for v in p["dotted"]:
        shapes.append(dict(type="line", xref=xa + " domain", x0=0, x1=1, yref=ya, y0=v, y1=v,
                           line=dict(color="black", width=1, dash="dot"), layer="above"))
    for v in p["warn"]:
        shapes.append(dict(type="line", xref=xa + " domain", x0=0, x1=1, yref=ya, y0=v, y1=v,
                           line=dict(color=MAGENTA, width=1.5, dash="4px,2px"), layer="above"))
    for v in p["zero"]:
        shapes.append(dict(type="line", xref=xa + " domain", x0=0, x1=1, yref=ya, y0=v, y1=v,
                           line=dict(color="black", width=3), layer="above"))

    # compact legend (key lines + labels), as in the original figure
    lx, ly = p["leg"]
    step = 1.3 * LEG_FONT
    for i, st in enumerate([STYLE_CONTROL, STYLE_OPER, STYLE_MEAN]):
        yy = ly + i * step
        shapes.append(dict(type="line", xref="paper", yref="paper", x0=fx(lx), x1=fx(lx + 21),
                           y0=fy(yy), y1=fy(yy), line=st, layer="above"))
    annotations.append(dict(text="<br>".join(LEGEND_NAMES), x=fx(lx + 44), y=fy(ly + step), xref="paper",
                            yref="paper", showarrow=False, xanchor="center", yanchor="middle", align="center",
                            font=dict(size=LEG_FONT), borderpad=0))

    tx, ty = p["title_xy"]
    annotations.append(dict(text=TITLE, x=fx(tx), y=fy(ty), xref="paper", yref="paper", showarrow=False,
                            xanchor="center", yanchor="middle", font=dict(size=11)))
    annotations.append(dict(text=STATION, x=fx(p["label_x"]), y=fy(p["label_y"]), xref="paper", yref="paper",
                            showarrow=False, xanchor="center", yanchor="middle", font=dict(size=10)))
    annotations.append(dict(text=p["var"], x=fx(p["label_x"]), y=fy(p["label_y"] + 11), xref="paper",
                            yref="paper", showarrow=False, xanchor="center", yanchor="middle",
                            font=dict(size=10)))
    bx, by = p["bron"]
    annotations.append(dict(text="<b>%s</b>" % SOURCE, x=fx(bx), y=fy(by), xref="paper", yref="paper",
                            showarrow=False, xanchor="right", yanchor="middle",
                            font=dict(size=7, color="#1a1aa8")))

# panel frames
shapes.append(dict(type="rect", xref="paper", yref="paper", x0=fx(3), x1=fx(778), y0=fy(562), y1=fy(1),
                   line=dict(color=OUTER, width=1.5), layer="below"))
shapes.append(dict(type="line", xref="paper", yref="paper", x0=fx(392), x1=fx(392), y0=fy(562), y1=fy(0),
                   line=dict(color=FRAME, width=1.5)))
for yy in (188, 374):
    shapes.append(dict(type="line", xref="paper", yref="paper", x0=fx(3), x1=fx(778), y0=fy(yy), y1=fy(yy),
                       line=dict(color=FRAME, width=1.5)))

layout["shapes"] = shapes
layout["annotations"] = annotations
fig.update_layout(**layout)

fig.write_html("out.html", config={"displayModeBar": False},
               post_script="document.body.style.margin='0';document.body.style.overflow='hidden';")
